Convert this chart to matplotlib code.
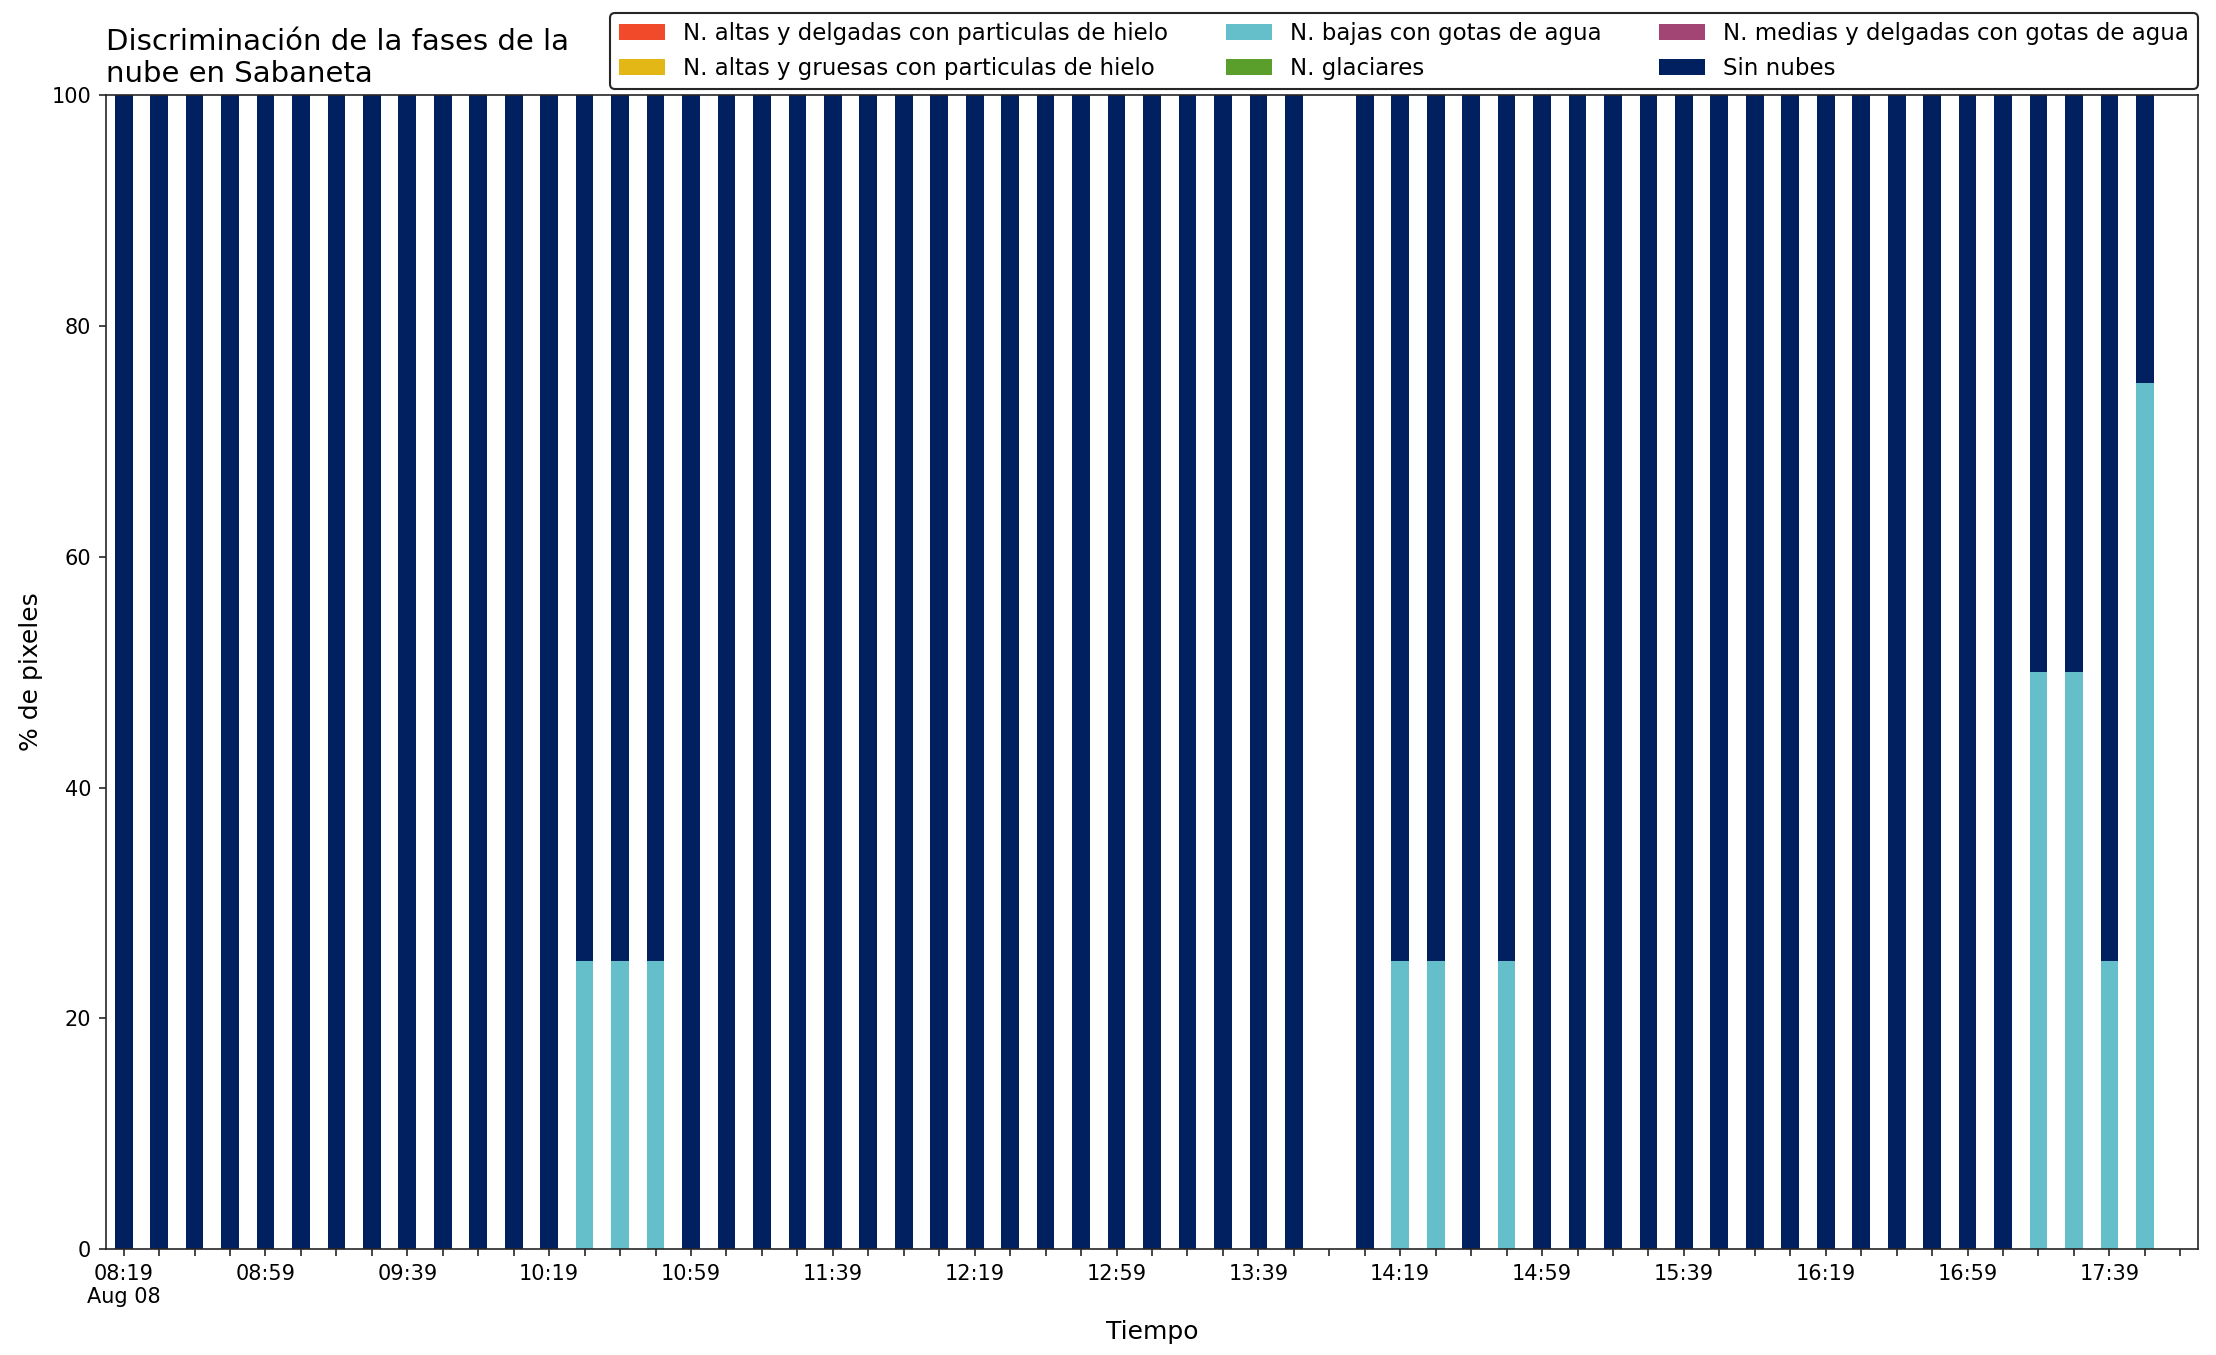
import numpy as np
import matplotlib
matplotlib.use("Agg")
import matplotlib.pyplot as plt

# 10-minute slots from 08:19 to 17:59 (Aug 08)
horas = ['08:19', '08:29', '08:39', '08:49', '08:59', '09:09', '09:19', '09:29',
         '09:39', '09:49', '09:59', '10:09', '10:19', '10:29', '10:39', '10:49',
         '10:59', '11:09', '11:19', '11:29', '11:39', '11:49', '11:59', '12:09',
         '12:19', '12:29', '12:39', '12:49', '12:59', '13:09', '13:19', '13:29',
         '13:39', '13:49', '13:59', '14:09', '14:19', '14:29', '14:39', '14:49',
         '14:59', '15:09', '15:19', '15:29', '15:39', '15:49', '15:59', '16:09',
         '16:19', '16:29', '16:39', '16:49', '16:59', '17:09', '17:19', '17:29',
         '17:39', '17:49', '17:59']

nan = np.nan
# % of pixels per class (nan = no data for that slot)
bajas = [0, 0, 0, 0, 0, 0, 0, 0, 0, 0, 0, 0, 0, 25, 25, 25,
         0, 0, 0, 0, 0, 0, 0, 0, 0, 0, 0, 0, 0, 0, 0, 0,
         0, 0, nan, 0, 25, 25, 0, 25, 0, 0, 0, 0, 0, 0, 0, 0,
         0, 0, 0, 0, 0, 0, 50, 50, 25, 75, nan]
sin_nubes = [100, 100, 100, 100, 100, 100, 100, 100, 100, 100, 100, 100, 100, 75, 75, 75,
             100, 100, 100, 100, 100, 100, 100, 100, 100, 100, 100, 100, 100, 100, 100, 100,
             100, 100, nan, 100, 75, 75, 100, 75, 100, 100, 100, 100, 100, 100, 100, 100,
             100, 100, 100, 100, 100, 100, 50, 50, 75, 25, nan]
zeros = [0 if not np.isnan(v) else nan for v in sin_nubes]

clases = ['N. altas y delgadas con particulas de hielo',
          'N. altas y gruesas con particulas de hielo',
          'N. bajas con gotas de agua',
          'N. glaciares',
          'N. medias y delgadas con gotas de agua',
          'Sin nubes']
valores = [zeros, zeros, bajas, zeros, zeros, sin_nubes]
colores = ['#F04A2B', '#E2B716', '#65BFCA', '#5A9F2B', '#A24474', '#00205F']

plt.rcParams['font.family'] = 'DejaVu Sans'
plt.rcParams['axes.edgecolor'] = '#262626'
plt.rcParams['xtick.color'] = '#262626'
plt.rcParams['ytick.color'] = '#262626'
plt.rcParams['xtick.labelcolor'] = 'black'
plt.rcParams['ytick.labelcolor'] = 'black'

fig = plt.figure(figsize=(2216 / 150, 1355 / 150), dpi=150)
ax = fig.add_axes([0.0478, 0.078, 0.9441, 0.852])

x = np.arange(len(horas))
bottom = np.zeros(len(horas))
for nombre, vals, c in zip(clases, valores, colores):
    v = np.array(vals, dtype=float)
    ax.bar(x, np.nan_to_num(v), width=0.5, bottom=bottom, color=c, label=nombre)
    bottom = bottom + np.nan_to_num(v)

ax.set_xlim(-0.5, len(horas) - 0.5)
ax.set_ylim(0, 100)
ax.set_xticks(x)
etiquetas = [h if i % 4 == 0 else '' for i, h in enumerate(horas)]
etiquetas[0] = '08:19\nAug 08'
ax.set_xticklabels(etiquetas, rotation=0)
ax.set_xlabel('Tiempo', fontsize=12, labelpad=6)
ax.set_ylabel('% de pixeles', fontsize=12)
ax.set_title('Discriminación de la fases de la\nnube en Sabaneta', loc='left', fontsize=14)

leg = ax.legend(ncol=3, loc='lower right', bbox_to_anchor=(1.0, 1.005),
                borderaxespad=0, fontsize=11, columnspacing=2.5)
leg.get_frame().set_edgecolor('#262626')
leg.get_frame().set_alpha(1)

fig.savefig('out.png', dpi=150)
